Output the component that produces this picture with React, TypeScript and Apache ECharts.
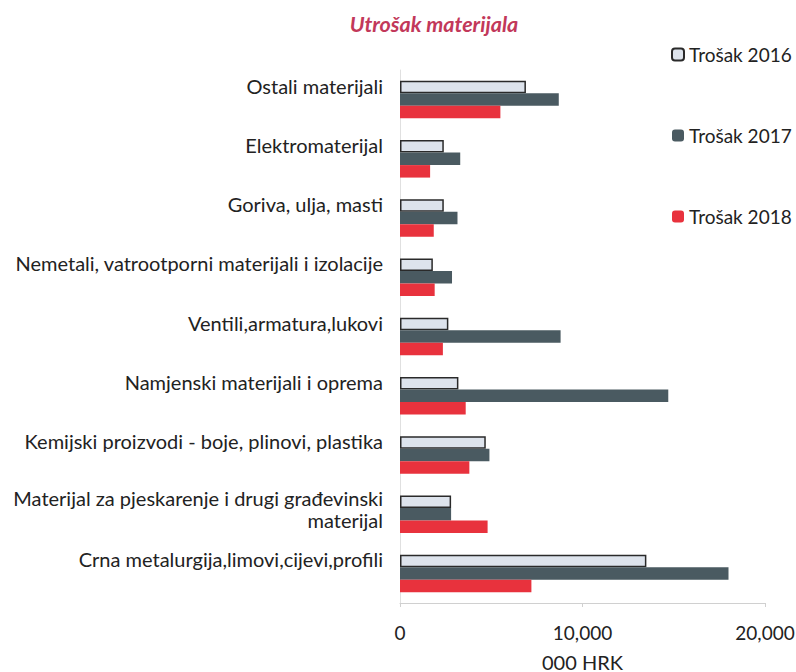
import React, { useEffect, useRef } from "react";
import * as echarts from "echarts";

const categories = [
  "Crna metalurgija,limovi,cijevi,profili",
  "Materijal za pjeskarenje i drugi građevinski\nmaterijal",
  "Kemijski proizvodi - boje, plinovi, plastika",
  "Namjenski materijali i oprema",
  "Ventili,armatura,lukovi",
  "Nemetali, vatrootporni materijali i izolacije",
  "Goriva, ulja, masti",
  "Elektromaterijal",
  "Ostali materijali",
];
const trosak2016 = [13500, 2800, 4700, 3200, 2650, 1800, 2400, 2400, 6900];
const trosak2017 = [18000, 2800, 4900, 14700, 8800, 2850, 3150, 3300, 8700];
const trosak2018 = [7200, 4800, 3800, 3600, 2350, 1900, 1850, 1650, 5500];
const xTicks = [0, 10000, 20000];

export default function App() {
  const ref = useRef<HTMLDivElement>(null);
  useEffect(() => {
    const chart = echarts.init(ref.current!, null, { renderer: "svg" });
    const font = "Lato, 'Open Sans', sans-serif";
    const labelBase = { fontFamily: font, fontSize: 20, color: "#222", align: "right" };
    chart.setOption({
      animation: false,
      backgroundColor: "#ffffff",
      title: {
        text: "Utrošak materijala",
        left: 429,
        textAlign: "center",
        top: 8,
        textStyle: {
          fontFamily: font,
          fontStyle: "italic",
          fontWeight: "bold",
          fontSize: 21.5,
          color: "#c2385a",
        },
      },
      legend: {
        orient: "vertical",
        left: 666,
        top: 40,
        itemGap: 62,
        itemWidth: 12,
        itemHeight: 12,
        textStyle: { fontFamily: font, fontSize: 19, color: "#222" },
        data: ["Trošak 2016", "Trošak 2017", "Trošak 2018"],
      },
      grid: {
        left: 400,
        right: 31,
        top: 70,
        bottom: 69,
        containLabel: false,
        outerBoundsMode: "none",
      },
      xAxis: {
        type: "value",
        min: xTicks[0],
        max: xTicks[xTicks.length - 1],
        interval: 10000,
        name: "000 HRK",
        nameLocation: "middle",
        nameGap: 50,
        nameTextStyle: { fontFamily: font, fontSize: 20, lineHeight: 17, color: "#222" },
        axisLine: { show: true, lineStyle: { color: "#d0d0d0" } },
        axisTick: { show: true, length: 4, lineStyle: { color: "#d0d0d0" } },
        splitLine: { show: false },
        axisLabel: {
          fontFamily: font,
          fontSize: 19,
          color: "#222",
          margin: 20,
          formatter: (v: number) => v.toLocaleString("en-US"),
        },
      },
      yAxis: {
        type: "category",
        data: categories,
        axisLine: { show: true, lineStyle: { color: "#e0e0e0" } },
        axisTick: { show: false },
        axisLabel: {
          fontFamily: font,
          fontSize: 20,
          color: "#222",
          margin: 17,
          align: "right",
          formatter: (v: string) => {
            const lines = v.split("\n");
            if (lines.length > 1) {
              return lines.map((l) => "{t|" + l + "}").join("\n") + "\n{s| }";
            }
            return "{t|" + v + "}\n{e| }";
          },
          rich: {
            t: { ...labelBase, lineHeight: 22 },
            s: { ...labelBase, lineHeight: 10 },
            e: { ...labelBase, lineHeight: 28 },
          },
        },
      },
      series: [
        {
          name: "Trošak 2016",
          type: "bar",
          data: trosak2016,
          barWidth: 12.5,
          barGap: "0%",
          itemStyle: { color: "#dde3ec", borderColor: "#2a2a2a", borderWidth: 1.5 },
        },
        {
          name: "Trošak 2017",
          type: "bar",
          data: trosak2017,
          barWidth: 12.5,
          barGap: "0%",
          itemStyle: { color: "#4a5a61" },
        },
        {
          name: "Trošak 2018",
          type: "bar",
          data: trosak2018,
          barWidth: 12.5,
          barGap: "0%",
          itemStyle: { color: "#e8323d" },
        },
      ],
    });
    return () => chart.dispose();
  }, []);
  return <div ref={ref} style={{ width: 796, height: 672, position: "absolute", left: 0, top: 0 }} />;
}
